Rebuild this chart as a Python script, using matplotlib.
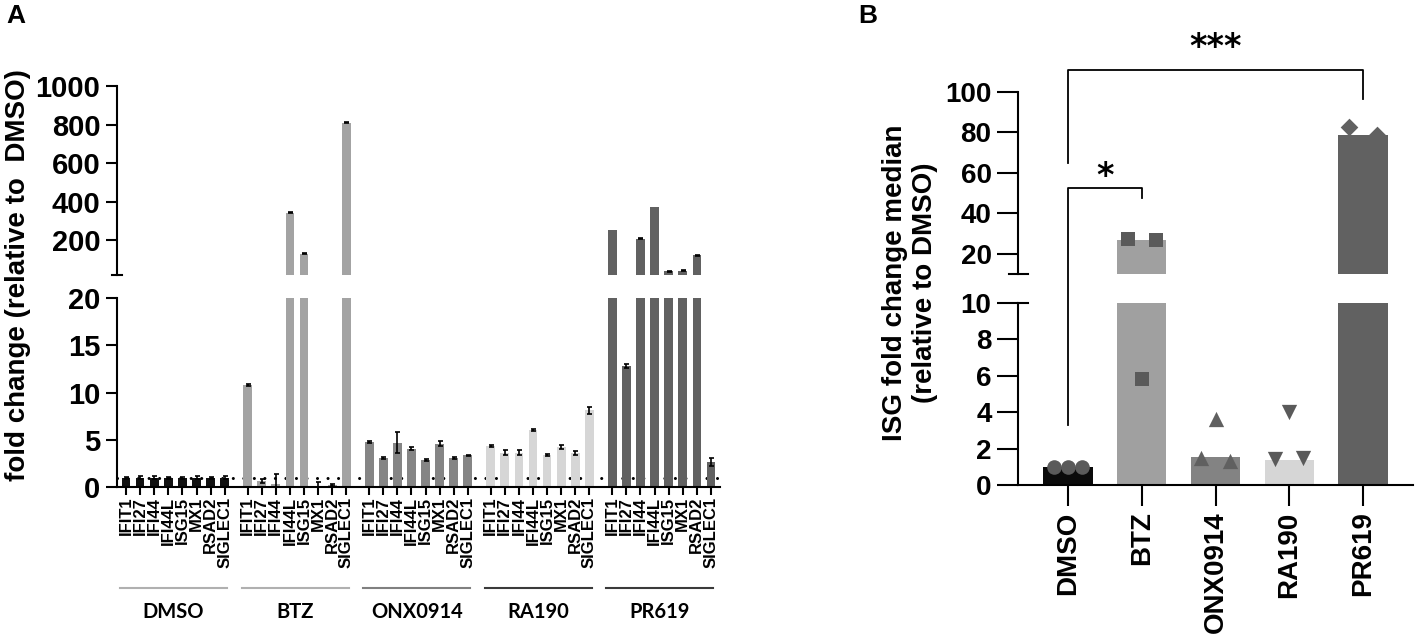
import matplotlib.pyplot as plt
import matplotlib.transforms as mtransforms
from matplotlib.lines import Line2D

plt.rcParams['font.family'] = ['Liberation Sans', 'DejaVu Sans']
plt.rcParams['font.weight'] = 'bold'
plt.rcParams['axes.linewidth'] = 1.5

genes = ['IFIT1', 'IFI27', 'IFI44', 'IFI44L', 'ISG15', 'MX1', 'RSAD2', 'SIGLEC1']
treatments = ['DMSO', 'BTZ', 'ONX0914', 'RA190', 'PR619']

# panel A: fold change per gene
dmso_fc = [0.95, 1.0, 1.0, 0.95, 0.95, 1.0, 0.95, 1.0]
dmso_err = [0.1, 0.15, 0.2, 0.1, 0.1, 0.2, 0.1, 0.15]
btz_fc = [10.8, 0.6, 0.3, 342, 131, 0.15, 0.25, 810]
btz_err = [0.1, 0.2, 1.1, 3, 2, 0.35, 0.1, 3]
onx_fc = [4.75, 3.05, 4.7, 4.05, 2.85, 4.6, 3.05, 3.35]
onx_err = [0.1, 0.12, 1.15, 0.15, 0.1, 0.3, 0.08, 0.08]
ra190_fc = [4.3, 3.65, 3.65, 6.0, 3.4, 4.2, 3.6, 8.1]
ra190_err = [0.12, 0.25, 0.25, 0.12, 0.1, 0.2, 0.25, 0.4]
pr619_fc = [255, 12.8, 209, 373, 39, 43, 122, 2.65]
pr619_err = [0, 0.25, 2, 0, 2, 2, 2, 0.4]

fc_data = [dmso_fc, btz_fc, onx_fc, ra190_fc, pr619_fc]
err_data = [dmso_err, btz_err, onx_err, ra190_err, pr619_err]
colors_a = ['#111111', '#a3a3a3', '#858585', '#d6d6d6', '#616161']
line_colors = ['#b0b0b0', '#b0b0b0', '#808080', '#3a3a3a', '#3a3a3a']

# panel B: ISG median fold change
isg_median = [1.0, 27.0, 1.55, 1.35, 78.5]
dmso_pts = [1.0, 1.0, 1.0]
btz_pts = [27.4, 5.8, 27.0]
onx_pts = [1.5, 3.6, 1.3]
ra190_pts = [1.45, 4.0, 1.5]
pr619_pts = [82.5, 45.0, 78.5]
pts_data = [dmso_pts, btz_pts, onx_pts, ra190_pts, pr619_pts]
markers = ['o', 's', '^', 'v', 'D']
msizes = [10.5, 10.5, 11, 11, 9]
colors_b = ['#0a0a0a', '#a0a0a0', '#838383', '#d6d6d6', '#616161']
pt_colors = ['#5a5a5a', '#5a5a5a', '#606060', '#5a5a5a', '#616161']

fig = plt.figure(figsize=(14.17, 6.38), dpi=100)

W, H = 1417, 638
def box(x0, x1, ytop, ybot):
    return [x0 / W, 1 - ybot / H, (x1 - x0) / W, (ybot - ytop) / H]

axA_top = fig.add_axes(box(117, 720, 86, 275))
axA_bot = fig.add_axes(box(117, 720, 298, 487))
axB_top = fig.add_axes(box(1018, 1413, 92, 274))
axB_bot = fig.add_axes(box(1018, 1413, 303, 485))

ekw = dict(ecolor='black', elinewidth=1.2, capsize=1.8, capthick=1.2)
step = 8.62
all_x = []
all_lab = []
for g in range(len(treatments)):
    xs = [g * step + i for i in range(len(genes))]
    all_x += xs
    all_lab += genes
    vals = fc_data[g]
    errs = err_data[g]
    hi = [i for i in range(len(vals)) if vals[i] > 20]
    lo = [i for i in range(len(vals)) if vals[i] <= 20]
    axA_bot.bar(xs, vals, width=0.62, color=colors_a[g], zorder=2)
    axA_top.bar(xs, vals, width=0.62, color=colors_a[g], zorder=2)
    if lo:
        axA_bot.errorbar([xs[i] for i in lo], [vals[i] for i in lo], yerr=[errs[i] for i in lo],
                         fmt='none', zorder=3, **ekw)
    hi_e = [i for i in hi if errs[i] > 0]
    if hi_e:
        axA_top.errorbar([xs[i] for i in hi_e], [vals[i] for i in hi_e], yerr=[errs[i] for i in hi_e],
                         fmt='none', zorder=3, **ekw)

xlim_a = (-0.64, 4 * step + 7 + 0.64)
for ax in (axA_top, axA_bot):
    ax.set_xlim(*xlim_a)
    ax.spines['top'].set_visible(False)
    ax.spines['right'].set_visible(False)
    ax.tick_params(axis='y', length=8, width=1.5, labelsize=21, pad=4)

axA_top.set_ylim(20, 1000)
axA_top.set_yticks([200, 400, 600, 800, 1000])
axA_top.spines['bottom'].set_visible(False)
axA_top.set_xticks([])
axA_top.plot([-0.008, 0.008], [0, 0], transform=axA_top.transAxes, color='black', lw=1.5, clip_on=False)

axA_bot.set_ylim(0, 20)
axA_bot.set_yticks([0, 5, 10, 15, 20])
axA_bot.axhline(1, color='black', lw=2.2, linestyle=(0, (0.01, 3.435)), dash_capstyle='round', zorder=1)
axA_bot.set_xticks(all_x)
axA_bot.set_xticklabels(all_lab, rotation=90, fontsize=12)
axA_bot.tick_params(axis='x', length=6, width=1.5, pad=1)

trans = mtransforms.blended_transform_factory(axA_bot.transData, axA_bot.transAxes)
for g, name in enumerate(treatments):
    x0 = g * step
    axA_bot.plot([x0 - 0.43, x0 + 7.16], [-0.534, -0.534], transform=trans,
                 color=line_colors[g], lw=1.5, clip_on=False)
    axA_bot.text(x0 + 3.37, -0.66, name, transform=trans, ha='center', va='center',
                 fontsize=14.5, family=['Lato', 'DejaVu Sans'], fontweight='bold')

fig.text(18 / W, 1 - 275 / H, 'fold change (relative to  DMSO)', rotation=90,
         ha='center', va='center', fontsize=20)
fig.text(16 / W, 1 - 16 / H, 'A', ha='center', va='center', fontsize=19)
fig.text(868 / W, 1 - 16 / H, 'B', ha='center', va='center', fontsize=19)

# panel B
offsets = [-0.19, 0, 0.19]
for ax in (axB_top, axB_bot):
    ax.bar(range(len(treatments)), isg_median, width=0.67, color=colors_b, zorder=2)
    for g in range(len(treatments)):
        ax.scatter([g + o for o in offsets], pts_data[g], marker=markers[g],
                   s=msizes[g] ** 2, color=pt_colors[g], zorder=3, linewidths=0)
    ax.set_xlim(-0.68, 4.68)
    ax.spines['top'].set_visible(False)
    ax.spines['right'].set_visible(False)
    ax.tick_params(axis='y', length=15, width=1.5, labelsize=20, pad=4)

axB_top.set_ylim(10, 100)
axB_top.set_yticks([20, 40, 60, 80, 100])
axB_top.spines['bottom'].set_visible(False)
axB_top.set_xticks([])
axB_top.plot([-0.022, 0.025], [0, 0], transform=axB_top.transAxes, color='black', lw=1.5, clip_on=False)

axB_bot.set_ylim(0, 10)
axB_bot.set_yticks([0, 2, 4, 6, 8, 10])
axB_bot.set_xticks(range(len(treatments)))
axB_bot.set_xticklabels(treatments, rotation=90, fontsize=20)
axB_bot.tick_params(axis='x', length=15, width=1.5, pad=4)
axB_bot.plot([0, 0.025], [1, 1], transform=axB_bot.transAxes, color='black', lw=1.5, clip_on=False)

fig.text(910 / W, 1 - 283 / H, 'ISG fold change median\n(relative to DMSO)', rotation=90,
         ha='center', va='center', fontsize=20, linespacing=1.2)

def to_fig(ax, x, y):
    return fig.transFigure.inverted().transform(ax.transData.transform((x, y)))

def bracket(p0, p1, p2, p3):
    pts = [p0, p1, p2, p3]
    xs = [p[0] for p in pts]
    ys = [p[1] for p in pts]
    fig.add_artist(Line2D(xs, ys, transform=fig.transFigure, color='black', lw=1.3))

bracket(to_fig(axB_bot, 0, 3.3), to_fig(axB_top, 0, 52.5), to_fig(axB_top, 1, 52.5), to_fig(axB_top, 1, 47.5))
bracket(to_fig(axB_top, 0, 64.8), to_fig(axB_top, 0, 110.9), to_fig(axB_top, 4, 110.9), to_fig(axB_top, 4, 96.5))

sx, sy = to_fig(axB_top, 0.5, 58)
fig.text(sx, sy, '*', ha='center', va='center', fontsize=24, family='DejaVu Sans')
tx, ty = to_fig(axB_top, 2.0, 122)
fig.text(tx, ty, '***', ha='center', va='center', fontsize=24, family='DejaVu Sans')

plt.savefig('out.png', dpi=100)
